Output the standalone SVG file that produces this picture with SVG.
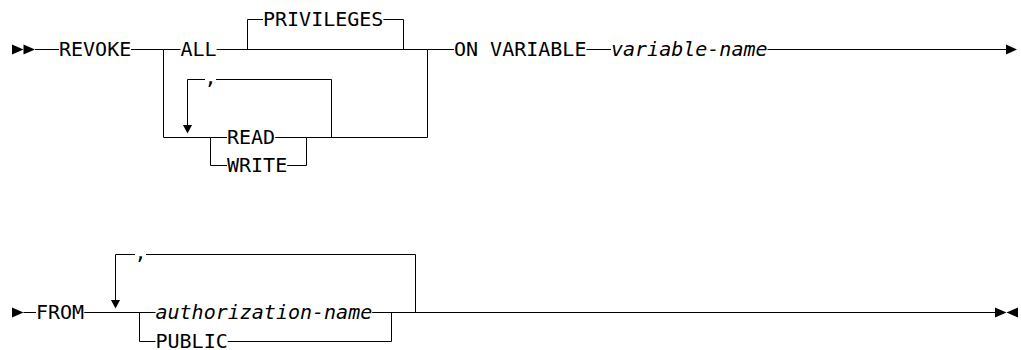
<svg xmlns="http://www.w3.org/2000/svg" width="1021" height="350" viewBox="0 0 1021 350">
<style>
.t{font-family:"DejaVu Sans Mono","Liberation Mono",monospace;font-size:20px;fill:#000}
.i{font-style:italic}
.l{fill:none;stroke:#000;stroke-width:1}
.a{fill:#000;stroke:none}
</style>
<rect width="1021" height="350" fill="#fff"/>
<g id="connectors">
<path class="l" d="M35 49.5H59M131 49.5H180.5M216.6 49.5H454M586.5 49.5H611M767.5 49.5H1006"/>
<path class="l" d="M163.5 49.5V137.5H227M275.2 137.5H427.5V49.5"/>
<path class="l" d="M247.5 49.5V19.5H263M383.4 19.5H403.5V49.5"/>
<path class="l" d="M187.5 125V79.5H205M216 79.5H331.5V137.5"/>
<path class="l" d="M210.5 137.5V165.5H227M287.2 165.5H306.5V137.5"/>
<path class="l" d="M23.5 312.5H36M84.2 312.5H155.5M372.2 312.5H995"/>
<path class="l" d="M139.5 312.5V341.5H155.5M227.7 341.5H391.5V312.5"/>
<path class="l" d="M115.5 300V254.5H135M146 254.5H415.5V312.5"/>
<polygon class="a" points="12,44.5 23.5,49.5 12,54.5"/>
<polygon class="a" points="23.5,44.5 35,49.5 23.5,54.5"/>
<polygon class="a" points="1006,44.5 1017,49.5 1006,54.5"/>
<polygon class="a" points="183,125 192,125 187.5,133.5"/>
<polygon class="a" points="12,307.5 23.5,312.5 12,317.5"/>
<polygon class="a" points="111,300 120,300 115.5,308.5"/>
<polygon class="a" points="995,307.5 1006.5,312.5 995,317.5"/>
<polygon class="a" points="1018,307.5 1006.5,312.5 1018,317.5"/>
</g>
<g id="revoke"><text class="t" x="59" y="56">REVOKE</text></g>
<g id="all"><text class="t" x="180.5" y="56">ALL</text></g>
<g id="privileges"><text class="t" x="263" y="26">PRIVILEGES</text></g>
<g id="comma1"><text class="t" x="210.5" y="84" text-anchor="middle">,</text></g>
<g id="read"><text class="t" x="227" y="144">READ</text></g>
<g id="write"><text class="t" x="227" y="172">WRITE</text></g>
<g id="on-variable"><text class="t" x="454" y="56">ON VARIABLE</text></g>
<g id="variable-name"><text class="t i" x="611" y="56">variable-name</text></g>
<g id="from"><text class="t" x="36" y="319">FROM</text></g>
<g id="comma2"><text class="t" x="140.5" y="259" text-anchor="middle">,</text></g>
<g id="authorization-name"><text class="t i" x="155.5" y="319">authorization-name</text></g>
<g id="public"><text class="t" x="155.5" y="348">PUBLIC</text></g>
</svg>
